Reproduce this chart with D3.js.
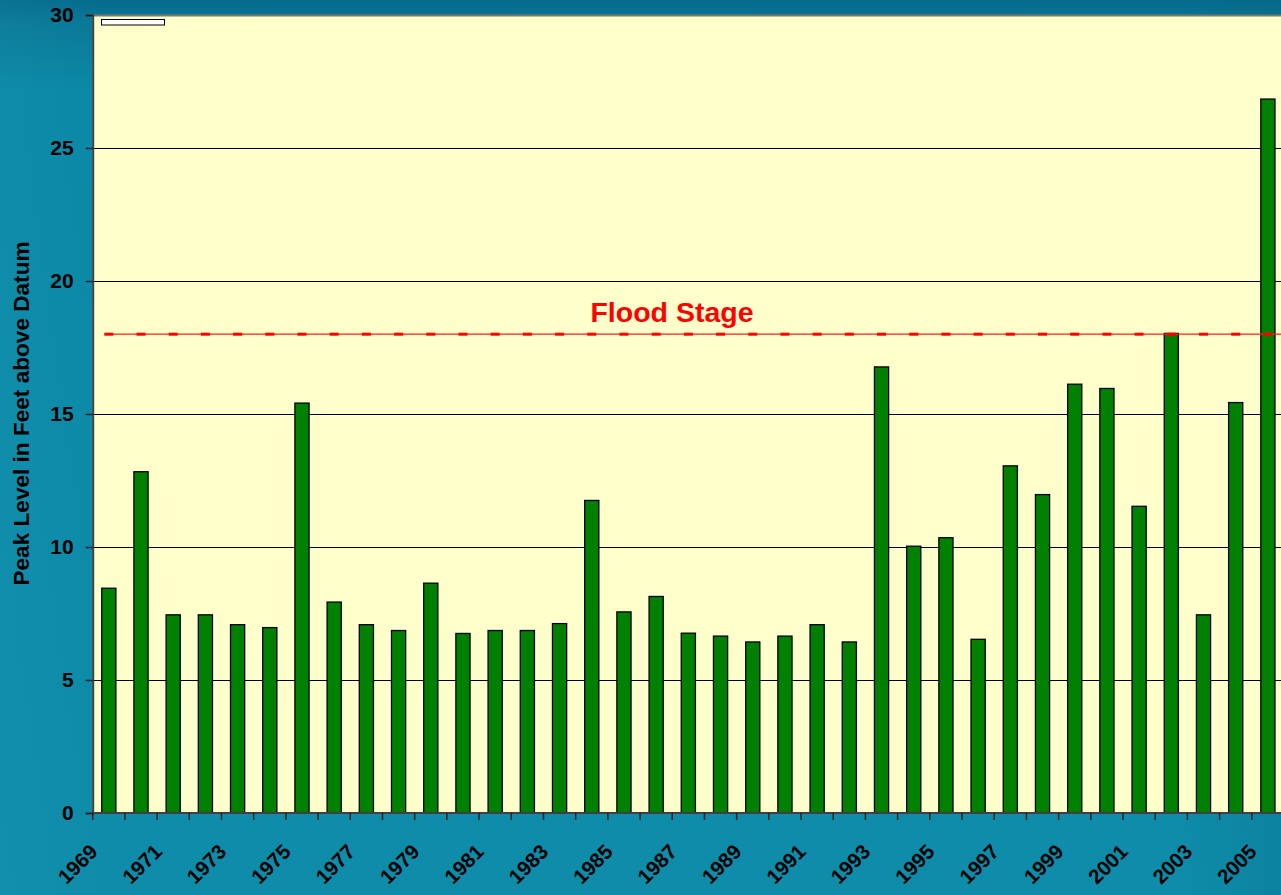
<!DOCTYPE html>
<html>
<head>
<meta charset="utf-8">
<script src="https://cdn.jsdelivr.net/npm/d3@7"></script>
<style>
  html, body { margin: 0; padding: 0; overflow: hidden; }
  svg { display: block; font-family: Arial, "Liberation Sans", sans-serif; }
</style>
</head>
<body>
<svg id="chart" width="1281" height="895"></svg>
<script>
// ---- data ----
const years = ["1969","1970","1971","1972","1973","1974","1975","1976","1977","1978",
               "1979","1980","1981","1982","1983","1984","1985","1986","1987","1988",
               "1989","1990","1991","1992","1993","1994","1995","1996","1997","1998",
               "1999","2000","2001","2002","2003","2004","2005"];
const peakLevels = [8.45, 12.83, 7.45, 7.45, 7.08, 6.97, 15.41, 7.93, 7.08, 6.86,
                    8.64, 6.75, 6.86, 6.86, 7.12, 11.75, 7.56, 8.14, 6.76, 6.65,
                    6.43, 6.65, 7.08, 6.43, 16.77, 10.03, 10.35, 6.53, 13.05, 11.97,
                    16.12, 15.96, 11.53, 18.03, 7.45, 15.43, 26.84];
const floodStage = 18;
const floodLabel = "Flood Stage";
const yTicks = [0, 5, 10, 15, 20, 25, 30];
const xLabelYears = years.filter((d, i) => i % 2 === 0);
const yTitle = "Peak Level in Feet above Datum";

// ---- layout ----
const svg = d3.select("#chart");
const W = 1281, H = 895;
const plot = { left: 92.7, right: 1284, top: 15, bottom: 813 };

// background
const defs = svg.append("defs");
const grad = defs.append("linearGradient").attr("id", "bg").attr("x1", 0).attr("y1", 0).attr("x2", 0).attr("y2", 1);
grad.append("stop").attr("offset", "0%").attr("stop-color", "#066a8b");
grad.append("stop").attr("offset", "2.5%").attr("stop-color", "#0a7896");
grad.append("stop").attr("offset", "10%").attr("stop-color", "#0b88a6");
grad.append("stop").attr("offset", "100%").attr("stop-color", "#0e8ca9");
const gradH = defs.append("linearGradient").attr("id", "bgh").attr("x1", 0).attr("y1", 0).attr("x2", 1).attr("y2", 0);
gradH.append("stop").attr("offset", "0%").attr("stop-color", "#2aa6c0").attr("stop-opacity", 0.12);
gradH.append("stop").attr("offset", "8%").attr("stop-color", "#2aa6c0").attr("stop-opacity", 0.0);
gradH.append("stop").attr("offset", "92%").attr("stop-color", "#05607e").attr("stop-opacity", 0.0);
gradH.append("stop").attr("offset", "100%").attr("stop-color", "#05607e").attr("stop-opacity", 0.2);
svg.append("rect").attr("width", W).attr("height", H).attr("fill", "url(#bg)");
svg.append("rect").attr("width", W).attr("height", H).attr("fill", "url(#bgh)");

// scales
const x = d3.scaleBand().domain(years).range([plot.left, plot.right])
  .paddingInner(0.56).paddingOuter(0.28);
const step = x.step();
const y = d3.scaleLinear().domain([0, 30]).range([plot.bottom, plot.top]);

// plot area
svg.append("rect")
  .attr("x", plot.left).attr("y", plot.top)
  .attr("width", plot.right - plot.left).attr("height", plot.bottom - plot.top)
  .attr("fill", "#FFFFCC");

// gridlines
svg.append("g").selectAll("line").data(yTicks.filter(d => d > 0 && d < 30)).join("line")
  .attr("x1", plot.left).attr("x2", plot.right)
  .attr("y1", d => Math.round(y(d)) + 0.5).attr("y2", d => Math.round(y(d)) + 0.5)
  .attr("stroke", "#000").attr("stroke-width", 1);

// top border
svg.append("line").attr("x1", plot.left).attr("x2", plot.right)
  .attr("y1", plot.top + 0.5).attr("y2", plot.top + 0.5)
  .attr("stroke", "#7a7a6a").attr("stroke-width", 2);

// bars
svg.append("g").selectAll("rect").data(years).join("rect")
  .attr("x", d => x(d))
  .attr("y", (d, i) => y(peakLevels[i]))
  .attr("width", x.bandwidth())
  .attr("height", (d, i) => y(0) - y(peakLevels[i]))
  .attr("fill", "#008000")
  .attr("stroke", "#000").attr("stroke-width", 1.3);

// flood stage line with dash markers
const cx = d => x(d) + x.bandwidth() / 2;
svg.append("line")
  .attr("x1", cx(years[0])).attr("x2", plot.right)
  .attr("y1", y(floodStage)).attr("y2", y(floodStage))
  .attr("stroke", "#ff2020").attr("stroke-width", 1.3);
svg.append("g").selectAll("rect").data(years).join("rect")
  .attr("x", d => cx(d) - 4.5).attr("y", y(floodStage) - 1.5)
  .attr("width", 9).attr("height", 3)
  .attr("fill", "#ff0000");
svg.append("text")
  .attr("x", 672).attr("y", y(floodStage) - 12)
  .attr("text-anchor", "middle")
  .attr("font-size", 28.5).attr("font-weight", "bold")
  .attr("fill", "#ff0000")
  .text(floodLabel);

// y axis
const yAxis = d3.axisLeft(y).tickValues(yTicks).tickSize(7).tickPadding(12);
const gy = svg.append("g").attr("transform", `translate(${plot.left},0)`).call(yAxis);
gy.select(".domain").attr("stroke", "#404040").attr("stroke-width", 2);
gy.selectAll(".tick line").attr("stroke", "#202020").attr("stroke-width", 1.5);
gy.selectAll(".tick text").attr("font-size", 21).attr("font-weight", "bold")
  .attr("fill", "#000").attr("font-family", "Arial, 'Liberation Sans', sans-serif");

// x axis: ticks at category boundaries
const boundaries = d3.range(years.length + 1).map(i => plot.left + i * step);
svg.append("line").attr("x1", plot.left).attr("x2", plot.right)
  .attr("y1", plot.bottom).attr("y2", plot.bottom)
  .attr("stroke", "#404040").attr("stroke-width", 2);
svg.append("g").selectAll("line").data(boundaries).join("line")
  .attr("x1", d => d).attr("x2", d => d)
  .attr("y1", plot.bottom).attr("y2", plot.bottom + 7)
  .attr("stroke", "#202020").attr("stroke-width", 1.5);
svg.append("g").selectAll("text").data(xLabelYears).join("text")
  .attr("transform", d => `translate(${cx(d) - 10},853) rotate(-45)`)
  .attr("text-anchor", "end")
  .attr("font-size", 20.5).attr("font-weight", "bold").attr("fill", "#000")
  .text(d => d);

// y title
svg.append("text")
  .attr("transform", `translate(29,${(240 + 587) / 2}) rotate(-90)`)
  .attr("text-anchor", "middle")
  .attr("font-size", 22.6).attr("font-weight", "bold").attr("fill", "#000")
  .text(yTitle);

// empty legend box
svg.append("rect")
  .attr("x", 101.5).attr("y", 19.5).attr("width", 63).attr("height", 5.5)
  .attr("fill", "#fff").attr("stroke", "#000").attr("stroke-width", 1);
</script>
</body>
</html>
